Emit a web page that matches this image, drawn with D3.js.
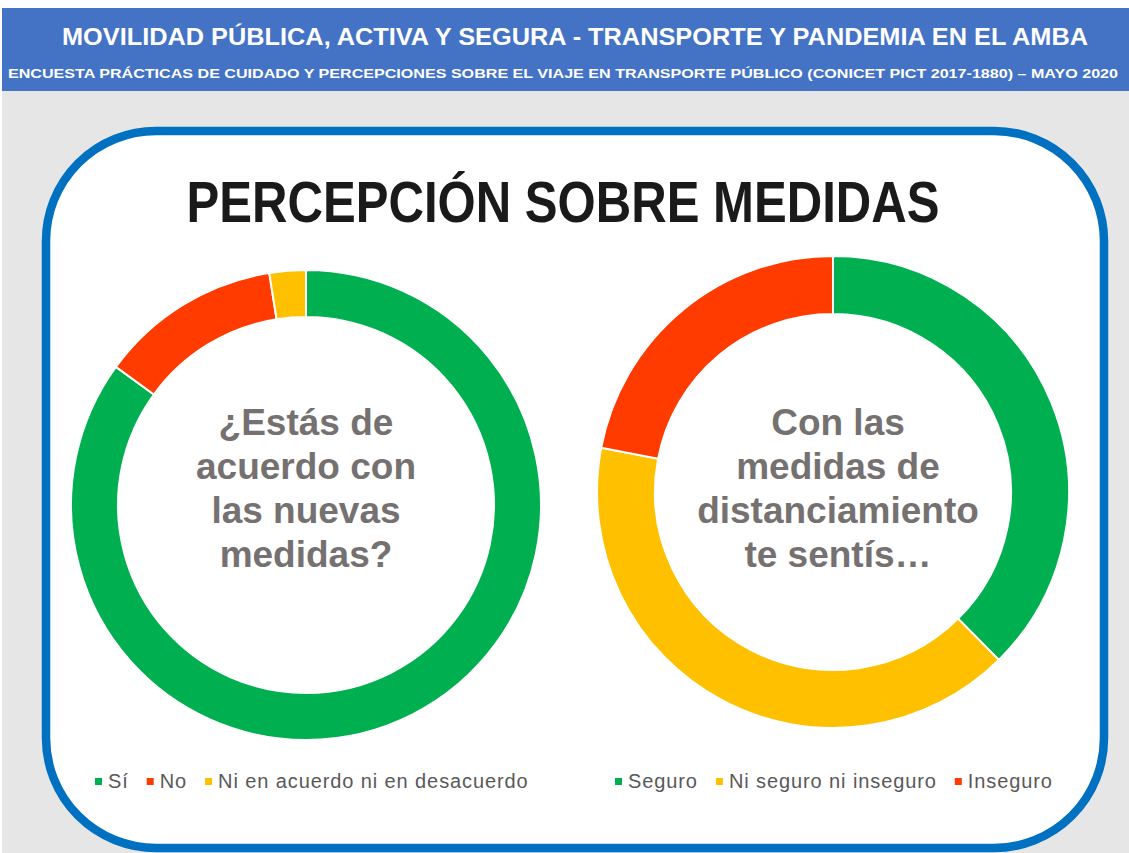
<!DOCTYPE html>
<html>
<head>
<meta charset="utf-8">
<script src="https://cdn.jsdelivr.net/npm/d3@7"></script>
<style>
  body { margin: 0; background: #fff; }
  svg { display: block; font-family: "Liberation Sans", Arial, sans-serif; }
</style>
</head>
<body>
<svg id="chart" width="1129" height="853"></svg>
<script>
// header texts
const headerTitle = "MOVILIDAD PÚBLICA, ACTIVA Y SEGURA - TRANSPORTE Y PANDEMIA EN EL AMBA";
const headerSub = "ENCUESTA PRÁCTICAS DE CUIDADO Y PERCEPCIONES SOBRE EL VIAJE EN TRANSPORTE PÚBLICO (CONICET PICT 2017-1880) – MAYO 2020";
const mainTitle = "PERCEPCIÓN SOBRE MEDIDAS";

// donut 1: acuerdo con las nuevas medidas (%)
const q1Labels = ["Sí", "No", "Ni en acuerdo ni en desacuerdo"];
const q1Values = [85, 12.5, 2.5];
const q1Colors = ["#00B050", "#FF3B00", "#FFC000"];
const q1Text = ["¿Estás de", "acuerdo con", "las nuevas", "medidas?"];

// donut 2: sensación con las medidas de distanciamiento (%)
const q2Labels = ["Seguro", "Ni seguro ni inseguro", "Inseguro"];
const q2Values = [37.6, 40.4, 22];
const q2Colors = ["#00B050", "#FFC000", "#FF3B00"];
const q2Text = ["Con las", "medidas de", "distanciamiento", "te sentís…"];

const svg = d3.select("#chart");

// background + header band
svg.append("rect").attr("x", 2).attr("y", 91).attr("width", 1127).attr("height", 762).attr("fill", "#E7E6E6");
svg.append("rect").attr("x", 2).attr("y", 8).attr("width", 1127).attr("height", 83).attr("fill", "#4472C4");

svg.append("text")
  .attr("x", 575).attr("y", 45)
  .attr("text-anchor", "middle")
  .attr("fill", "#fff").attr("font-weight", "bold").attr("font-size", 24)
  .attr("textLength", 1026).attr("lengthAdjust", "spacingAndGlyphs")
  .text(headerTitle);

svg.append("text")
  .attr("x", 563).attr("y", 78)
  .attr("text-anchor", "middle")
  .attr("fill", "#fff").attr("font-weight", "bold").attr("font-size", 13)
  .attr("textLength", 1110).attr("lengthAdjust", "spacingAndGlyphs")
  .text(headerSub);

// white rounded panel
svg.append("rect")
  .attr("x", 46).attr("y", 131).attr("width", 1058).attr("height", 717)
  .attr("rx", 110).attr("ry", 110)
  .attr("fill", "#fff").attr("stroke", "#0070C0").attr("stroke-width", 8.5);

svg.append("text")
  .attr("x", 563).attr("y", 222)
  .attr("text-anchor", "middle")
  .attr("fill", "#1a1a1a").attr("font-weight", "bold").attr("font-size", 57)
  .attr("textLength", 753).attr("lengthAdjust", "spacingAndGlyphs")
  .text(mainTitle);

// donuts
const pie = d3.pie().sort(null).value(d => d.value);

function donut(cx, cy, outer, inner, labels, values, colors, lines, textX) {
  const data = labels.map((l, i) => ({ label: l, value: values[i], color: colors[i] }));
  const arc = d3.arc().innerRadius(inner).outerRadius(outer);
  const g = svg.append("g").attr("transform", `translate(${cx},${cy})`);
  g.selectAll("path")
    .data(pie(data))
    .join("path")
    .attr("d", arc)
    .attr("fill", d => d.data.color)
    .attr("stroke", "#fff")
    .attr("stroke-width", 2);

  svg.append("g")
    .selectAll("text")
    .data(lines)
    .join("text")
    .attr("x", textX)
    .attr("y", (d, i) => 435 + i * 44)
    .attr("text-anchor", "middle")
    .attr("fill", "#767171")
    .attr("font-weight", "bold")
    .attr("font-size", 37)
    .text(d => d);
}

donut(306, 505, 235, 188, q1Labels, q1Values, q1Colors, q1Text, 306);
donut(833, 492, 236, 178, q2Labels, q2Values, q2Colors, q2Text, 838);

// legends
function legend(x0, labels, colors) {
  let x = x0;
  labels.forEach((l, i) => {
    svg.append("rect")
      .attr("x", x).attr("y", 778).attr("width", 7).attr("height", 7)
      .attr("fill", colors[i]);
    const t = svg.append("text")
      .attr("x", x + 13).attr("y", 788)
      .attr("fill", "#595959").attr("font-size", 20)
      .attr("letter-spacing", 0.9)
      .text(l);
    x = x + 13 + t.node().getComputedTextLength() + 18;
  });
}

legend(95, q1Labels, q1Colors);
legend(615, q2Labels, q2Colors);
</script>
</body>
</html>
